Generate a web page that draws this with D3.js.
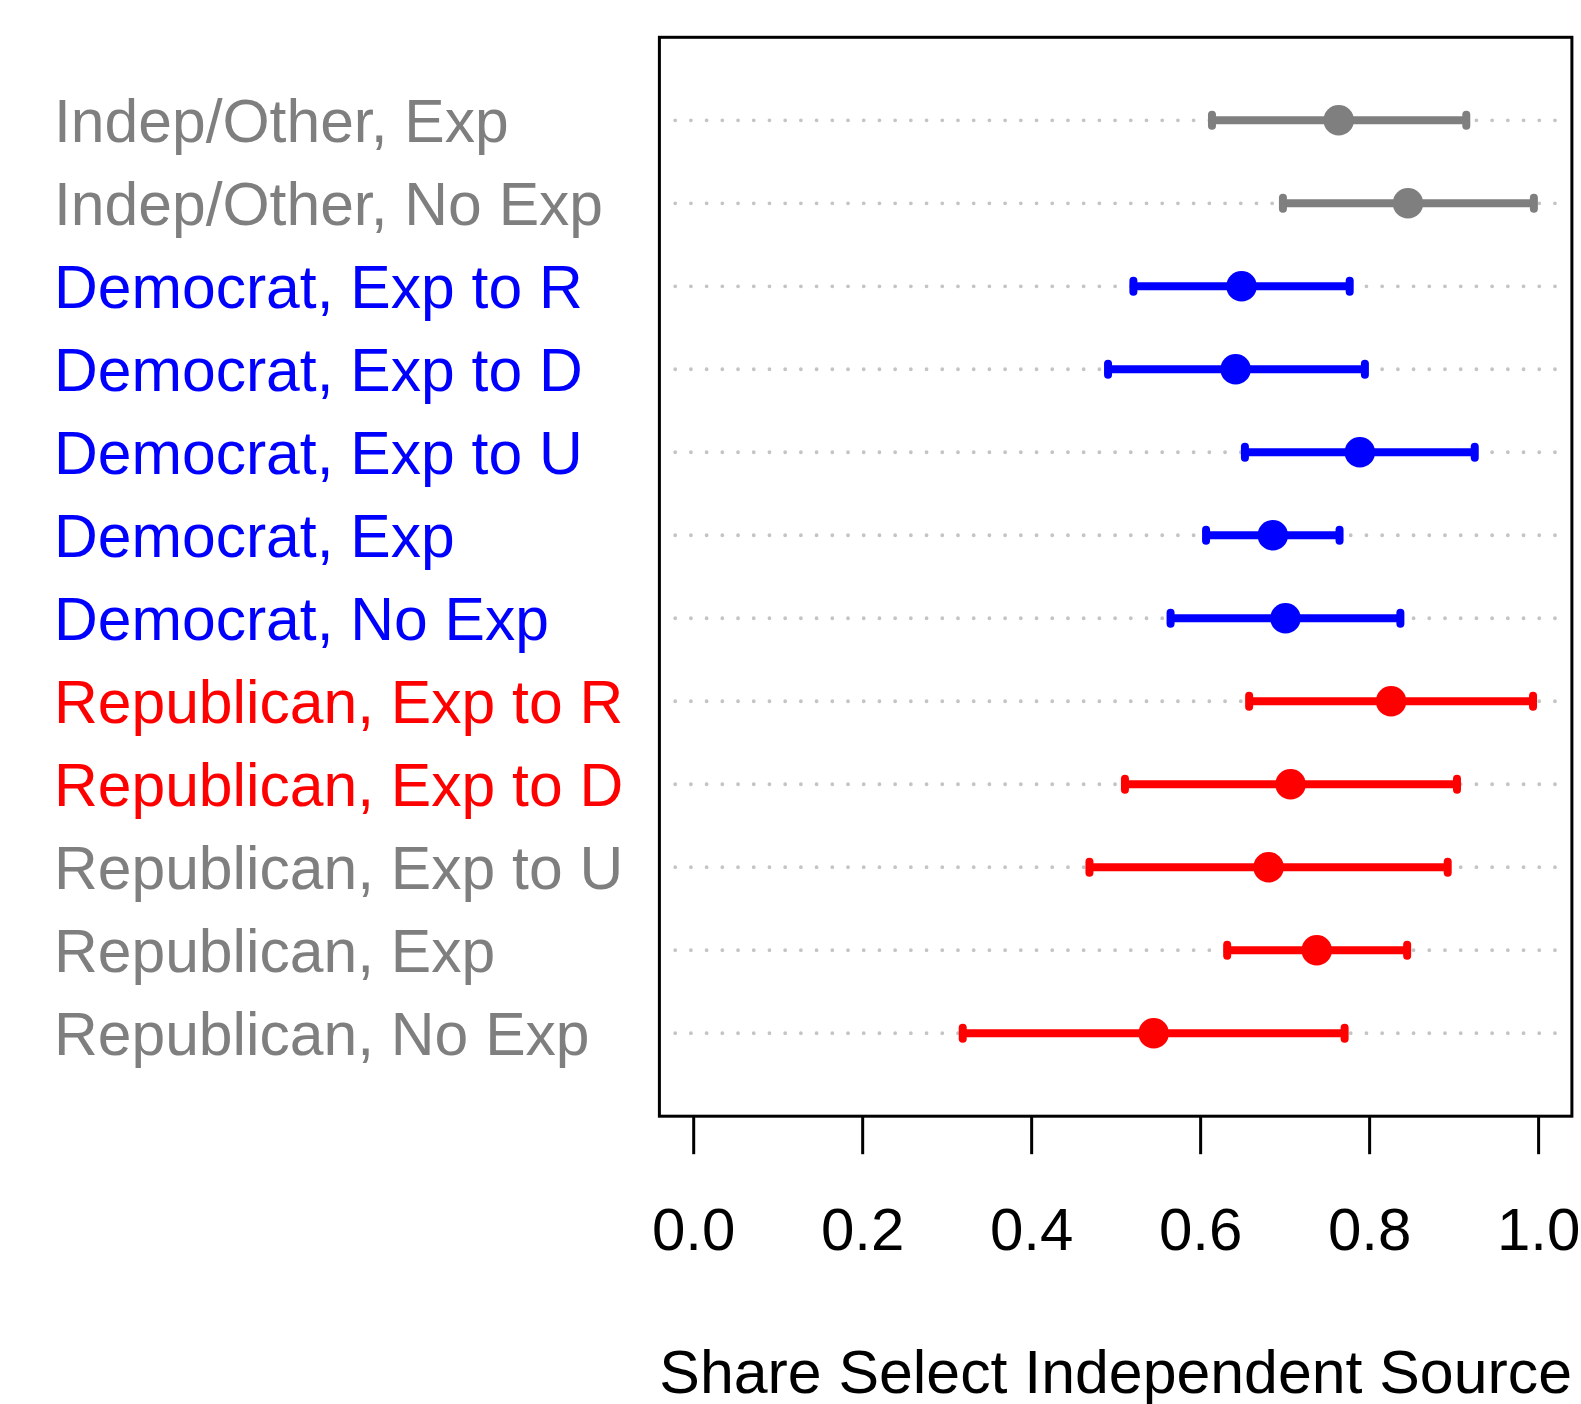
<!DOCTYPE html>
<html><head><meta charset="utf-8">
<script src="https://cdn.jsdelivr.net/npm/d3@7"></script>
<style>body{margin:0;background:#fff}svg{display:block}</style>
</head><body>
<script>
// Data (top to bottom)
const labels = ["Indep/Other, Exp","Indep/Other, No Exp","Democrat, Exp to R","Democrat, Exp to D","Democrat, Exp to U","Democrat, Exp","Democrat, No Exp","Republican, Exp to R","Republican, Exp to D","Republican, Exp to U","Republican, Exp","Republican, No Exp"];
const labelColors = ["#7f7f7f","#7f7f7f","#0000ff","#0000ff","#0000ff","#0000ff","#0000ff","#ff0000","#ff0000","#7f7f7f","#7f7f7f","#7f7f7f"];
const markColors = ["#7f7f7f","#7f7f7f","#0000ff","#0000ff","#0000ff","#0000ff","#0000ff","#ff0000","#ff0000","#ff0000","#ff0000","#ff0000"];
const estimates = [0.764,0.846,0.649,0.642,0.789,0.686,0.701,0.826,0.707,0.681,0.738,0.545];
const lower     = [0.614,0.698,0.521,0.491,0.653,0.607,0.565,0.658,0.511,0.469,0.632,0.319];
const upper     = [0.915,0.995,0.777,0.795,0.925,0.765,0.837,0.994,0.904,0.893,0.845,0.771];
const xTicks = [0,0.2,0.4,0.6,0.8,1.0];
const xTitle = "Share Select Independent Source";

const W=1581,H=1404;
const L=659.4,R=1571.9,T=37.3,B=1116.2;
const svg=d3.select("body").append("svg").attr("width",W).attr("height",H);
const x=d3.scaleLinear().domain([-0.04,1.04]).range([L,R]);
const n=labels.length;
const y=d3.scaleLinear().domain([0,n+1]).range([B,T]);
const rowY=i=>y(n-i);
const font="'Liberation Sans', Arial, Helvetica, sans-serif";

// dotted guide lines
svg.append("g").selectAll("line").data(labels).join("line")
  .attr("x1",x(-0.0213)).attr("x2",x(1.0213))
  .attr("y1",(d,i)=>rowY(i)).attr("y2",(d,i)=>rowY(i))
  .attr("stroke","#c4c4c4").attr("stroke-width",3.8)
  .attr("stroke-linecap","round").attr("stroke-dasharray","0 15.71");

// error bars
const g=svg.append("g");
g.selectAll(".bar").data(labels).join("line")
  .attr("x1",(d,i)=>x(lower[i])).attr("x2",(d,i)=>x(upper[i]))
  .attr("y1",(d,i)=>rowY(i)).attr("y2",(d,i)=>rowY(i))
  .attr("stroke",(d,i)=>markColors[i]).attr("stroke-width",8);
[lower,upper].forEach(arr=>{
  g.append("g").selectAll("line").data(labels).join("line")
   .attr("x1",(d,i)=>x(arr[i])).attr("x2",(d,i)=>x(arr[i]))
   .attr("y1",(d,i)=>rowY(i)-5.5).attr("y2",(d,i)=>rowY(i)+5.5)
   .attr("stroke",(d,i)=>markColors[i]).attr("stroke-width",8)
   .attr("stroke-linecap","round");
});
g.selectAll("circle").data(labels).join("circle")
  .attr("cx",(d,i)=>x(estimates[i])).attr("cy",(d,i)=>rowY(i))
  .attr("r",15.3).attr("fill",(d,i)=>markColors[i]);

// box
svg.append("rect").attr("x",L).attr("y",T).attr("width",R-L).attr("height",B-T)
  .attr("fill","none").attr("stroke","#000").attr("stroke-width",3);

// x axis
const ax=svg.append("g").attr("transform",`translate(0,${B})`)
  .call(d3.axisBottom(x).tickValues(xTicks).tickSize(38).tickPadding(0).tickFormat(d3.format(".1f")));
ax.select(".domain").remove();
ax.selectAll(".tick line").attr("stroke","#000").attr("stroke-width",3);
ax.selectAll(".tick text").attr("y",134).attr("dy",0).attr("fill","#000")
  .style("font-family",font).style("font-size","60px");

svg.append("text").attr("x",(L+R)/2).attr("y",1393).attr("text-anchor","middle")
  .style("font-family",font).style("font-size","60.8px").attr("fill","#000").text(xTitle);

// labels
svg.append("g").selectAll("text").data(labels).join("text")
  .attr("x",54).attr("y",(d,i)=>rowY(i)+21.5)
  .attr("fill",(d,i)=>labelColors[i])
  .style("font-family",font).style("font-size","60.6px").text(d=>d);
</script>
</body></html>
